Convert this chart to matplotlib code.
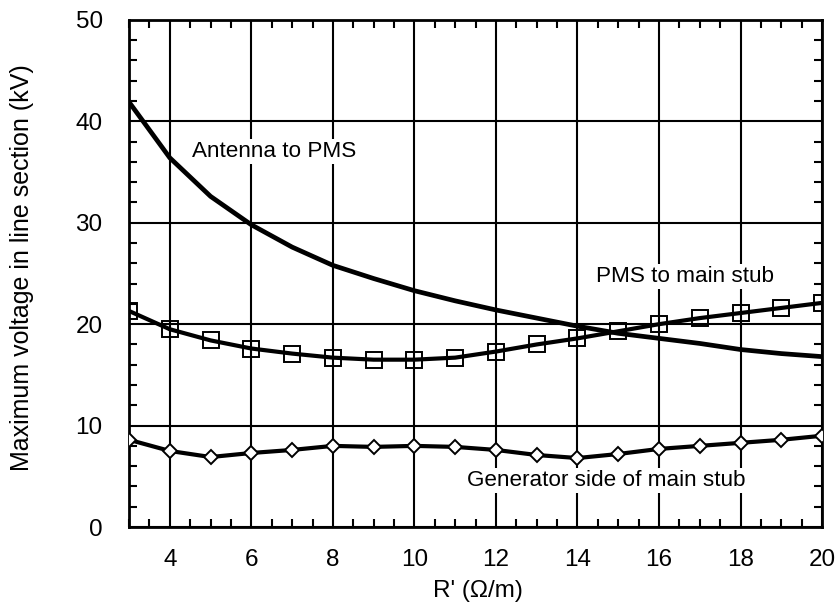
import matplotlib
matplotlib.use("Agg")
import matplotlib.pyplot as plt
from matplotlib.ticker import MultipleLocator

plt.rcParams['font.family'] = ['Liberation Sans', 'DejaVu Sans']

r_prime = [3, 4, 5, 6, 7, 8, 9, 10, 11, 12, 13, 14, 15, 16, 17, 18, 19, 20]
antenna_to_pms = [41.9, 36.4, 32.6, 29.8, 27.6, 25.8, 24.5, 23.3, 22.3, 21.4,
                  20.6, 19.8, 19.1, 18.6, 18.1, 17.5, 17.1, 16.8]
pms_to_stub = [21.3, 19.5, 18.4, 17.6, 17.1, 16.7, 16.5, 16.5, 16.7, 17.3,
               18.0, 18.6, 19.3, 20.0, 20.6, 21.1, 21.6, 22.1]
generator_side = [8.6, 7.5, 6.9, 7.3, 7.6, 8.0, 7.9, 8.0, 7.9, 7.6,
                  7.1, 6.8, 7.2, 7.7, 8.0, 8.3, 8.6, 9.0]

fig = plt.figure(figsize=(8.38, 6.03), dpi=100)
ax = fig.add_axes([0.154, 0.126, 0.827, 0.841])

ax.plot(r_prime, antenna_to_pms, color='black', lw=3.4, zorder=3)
ax.plot(r_prime, pms_to_stub, color='black', lw=3.0, marker='s', ms=11,
        mfc='none', mec='black', mew=1.4, zorder=3)
ax.plot(r_prime, generator_side, color='black', lw=3.0, marker='D', ms=7,
        mfc='white', mec='black', mew=1.4, zorder=3)

ax.set_xlim(3, 20)
ax.set_ylim(0, 50)
ax.xaxis.set_major_locator(MultipleLocator(2))
ax.xaxis.set_minor_locator(MultipleLocator(0.5))
ax.yaxis.set_major_locator(MultipleLocator(10))
ax.yaxis.set_minor_locator(MultipleLocator(2))
ax.set_xticks([4, 6, 8, 10, 12, 14, 16, 18, 20])

ax.grid(True, which='major', color='black', lw=1.5)
ax.tick_params(which='both', direction='in', top=True, right=True,
               labelsize=17.5, width=1.5, color='black')
ax.tick_params(which='major', length=0)
ax.tick_params(axis='x', which='major', pad=16)
ax.tick_params(axis='y', which='major', pad=19)
ax.tick_params(which='minor', length=6)
for s in ax.spines.values():
    s.set_linewidth(2)

# axis titles placed in figure coordinates
fig.text(478 / 838, 1 - 591 / 603, "R' (\u03a9/m)", fontsize=17.5,
         ha='center', va='center')
fig.text(22 / 838, 1 - 268 / 603, "Maximum voltage in line section (kV)",
         fontsize=18, rotation=90, ha='center', va='center')

box = dict(facecolor='white', edgecolor='none', pad=1.5)
ax.text(4.55, 37.0, "Antenna to PMS", fontsize=16.2, va='center', ha='left',
        bbox=box, zorder=2)
ax.text(14.45, 24.7, "PMS to main stub", fontsize=16.2, va='center',
        ha='left', bbox=box, zorder=2)
ax.text(11.3, 4.6, "Generator side of main stub", fontsize=16.2,
        va='center', ha='left', bbox=box, zorder=2)

fig.savefig("out.png", dpi=100)
